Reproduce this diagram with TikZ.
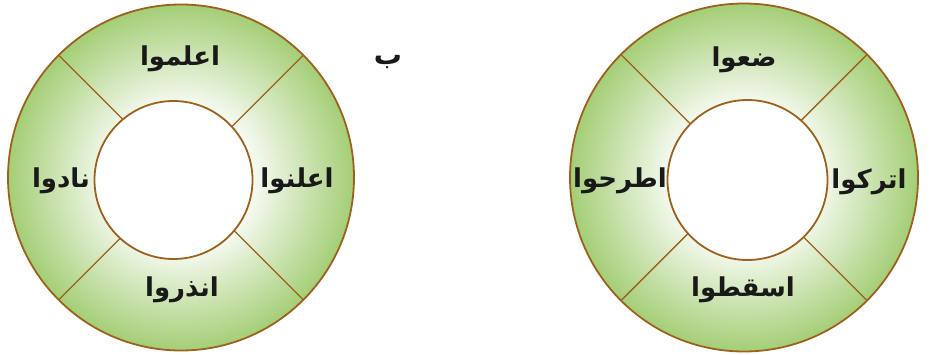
\documentclass[tikz,border=0pt]{standalone}
\usepackage{fontspec}
\newfontfamily\arabicfont[Script=Arabic]{DejaVu Sans}
\TeXXeTstate=1
\usepackage{tikz}
\usetikzlibrary{positioning}
\definecolor{ringGreen}{HTML}{A4CE76}
\definecolor{ringBrown}{HTML}{9E611D}
\pgfdeclareradialshading{ringshade}{\pgfpoint{0bp}{0bp}}{%
  color(0bp)=(white); color(9bp)=(white); color(25bp)=(ringGreen); color(50bp)=(ringGreen)}

\begin{document}
\begin{tikzpicture}[
  x=1pt, y=-1pt,
  word/.style={font=\arabicfont\bfseries\fontsize{26}{30}\selectfont, text=black!90, inner sep=0pt},
  tag/.style={font=\arabicfont\bfseries\fontsize{28}{32}\selectfont, text=black!90, inner sep=0pt},
  rim/.style={draw=ringBrown, line width=1.8pt},
  divider/.style={draw=ringBrown, line width=1.4pt},
]
  \useasboundingbox (0,0) rectangle (936,354);

  % ring b (left)
  \shade[shading=ringshade] (181,177.5) circle (173);
  \foreach \a in {45,135,225,315}
    \draw[divider] (181,177.5) -- ++(\a:173);
  \draw[rim, fill=white] (173.5,180) circle (79);
  \draw[rim] (181,177.5) circle (173);

  % ring a (right)
  \shade[shading=ringshade] (744,177.5) circle (174);
  \foreach \a in {45,135,225,315}
    \draw[divider] (744,177.5) -- ++(\a:174);
  \draw[rim, fill=white] (747.5,180) circle (80);
  \draw[rim] (744,177.5) circle (174);

  % words of ring b
  \node[word] (bTop)   at (180,59)  {\beginR اعلموا\endR};
  \node[word] (bRight) at (297,181) {\beginR اعلنوا\endR};
  \node[word] (bLeft)  at (61,181)  {\beginR نادوا\endR};
  \node[word] (bDown)  at (182,290) {\beginR انذروا\endR};

  % words of ring a
  \node[word] (aTop)   at (744,60)  {\beginR ضعوا\endR};
  \node[word] (aRight) at (869,182) {\beginR اتركوا\endR};
  \node[word] (aLeft)  at (620,181) {\beginR اطرحوا\endR};
  \node[word] (aDown)  at (743,290) {\beginR اسقطوا\endR};

  % item letters
  \node[tag] (bTag) at (388,62) {\beginR ب\endR};
  \node[tag] (aTag) at (941,47) {\beginR أ\endR};
\end{tikzpicture}
\end{document}
